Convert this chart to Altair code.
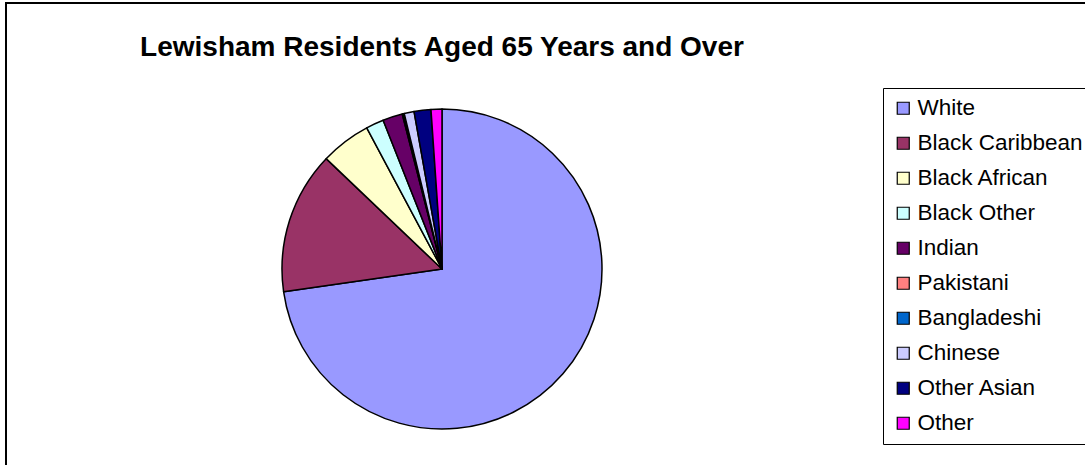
import altair as alt
import pandas as pd

categories = ["White", "Black Caribbean", "Black African", "Black Other", "Indian",
              "Pakistani", "Bangladeshi", "Chinese", "Other Asian", "Other"]
values = [72.8, 14.4, 5.1, 1.8, 2.0, 0.1, 0.1, 1.0, 1.7, 1.1]
colors = ["#9999FF", "#993366", "#FFFFCC", "#CCFFFF", "#660066",
          "#FF8080", "#0066CC", "#CCCCFF", "#000080", "#FF00FF"]
title_text = "Lewisham Residents Aged 65 Years and Over"

df = pd.DataFrame({"group": categories, "value": values, "idx": list(range(len(categories)))})

W, H = 1085, 465

border = alt.Chart(pd.DataFrame({"a": [0]})).mark_rect(
    fill="white", stroke="black", strokeWidth=2
).encode(
    x=alt.value(6), x2=alt.value(1200), y=alt.value(3), y2=alt.value(700)
)

pie = alt.Chart(df).mark_arc(
    outerRadius=160, stroke="black", strokeWidth=1.5, strokeJoin="round"
).encode(
    theta=alt.Theta("value:Q", stack=True),
    order=alt.Order("idx:Q"),
    color=alt.Color(
        "group:N",
        scale=alt.Scale(domain=categories, range=colors),
        sort=categories,
        legend=alt.Legend(
            title=None,
            orient="none",
            legendX=883,
            legendY=88,
            strokeColor="black",
            fillColor="white",
            padding=9,
            symbolType="square",
            symbolSize=144,
            symbolStrokeColor="black",
            symbolStrokeWidth=1.2,
            labelFont="Liberation Sans",
            labelFontSize=22.5,
            labelColor="black",
            labelLimit=0,
            labelOffset=3,
            rowPadding=12,
        ),
    ),
    x=alt.value(442),
    y=alt.value(269),
)

title = alt.Chart(pd.DataFrame({"t": [title_text]})).mark_text(
    font="Liberation Sans", fontSize=28, fontWeight="bold", color="black",
    align="center", baseline="middle"
).encode(
    text="t:N", x=alt.value(442), y=alt.value(48)
)

chart = alt.layer(border, pie, title).properties(
    width=W, height=H, padding=0, autosize=alt.AutoSizeParams(type="none")
).configure_view(stroke=None)

chart.save("out.html", embed_options={"renderer": "svg", "actions": False})
